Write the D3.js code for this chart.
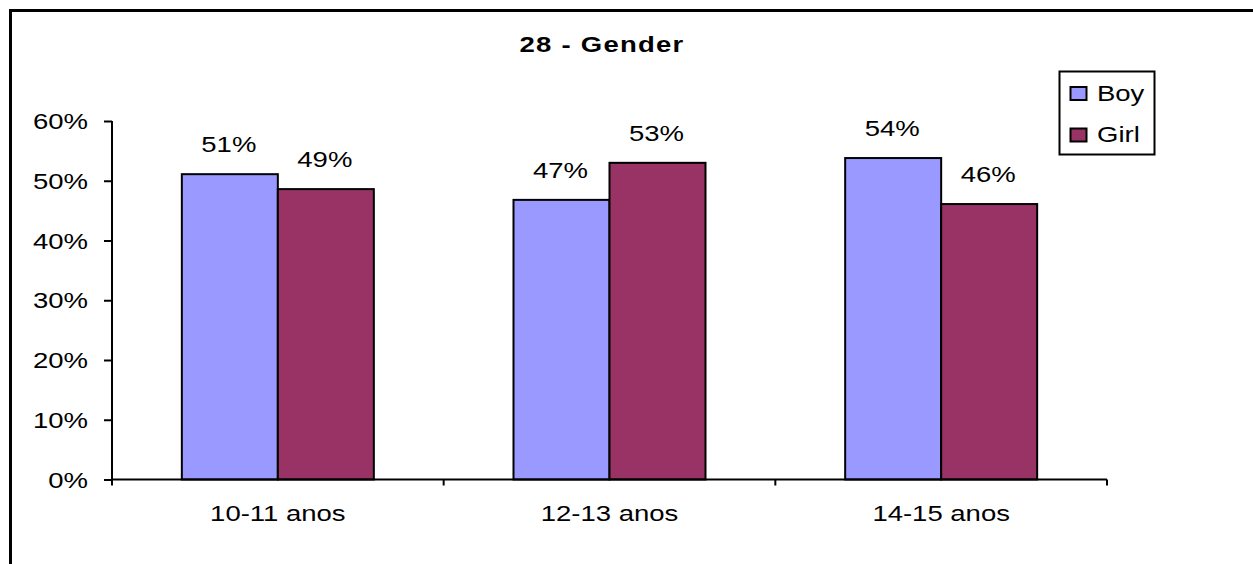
<!DOCTYPE html>
<html>
<head>
<meta charset="utf-8">
<script src="https://cdn.jsdelivr.net/npm/d3@7"></script>
<style>
  html, body { margin: 0; padding: 0; background: #fff; }
  svg { display: block; }
  text { font-family: Arial, "Liberation Sans", sans-serif; fill: #000; }
</style>
</head>
<body>
<svg id="chart" width="1253" height="564"></svg>
<script>
const categories = ["10-11 anos", "12-13 anos", "14-15 anos"];
const seriesNames = ["Boy", "Girl"];
const boyValues = [0.511, 0.468, 0.538];
const girlValues = [0.486, 0.530, 0.461];
const yTicks = [0, 0.1, 0.2, 0.3, 0.4, 0.5, 0.6];
const title = "28 - Gender";

(function () {
const colors = { Boy: "#9999FF", Girl: "#993366" };
const SX = 1.25; // horizontal text stretch seen in reference
const FS = 22;

const svg = d3.select("#chart");
const W = 1253, H = 564;
svg.append("rect").attr("width", W).attr("height", H).attr("fill", "#fff");

// outer chart border (extends past the right/bottom edges)
svg.append("rect")
  .attr("x", 10.5).attr("y", 10.5)
  .attr("width", 1300).attr("height", 700)
  .attr("fill", "none").attr("stroke", "#000").attr("stroke-width", 3);

const pLeft = 112, pRight = 1107, pTop = 121, pBottom = 479.5;

const x0 = d3.scaleBand().domain(categories).range([pLeft, pRight]).padding(0);
const barW = 96;
const bw = x0.bandwidth();
const x1 = d3.scaleBand().domain(seriesNames)
  .range([(bw - 2 * barW) / 2, (bw + 2 * barW) / 2]).padding(0);
const y = d3.scaleLinear().domain([0, 0.6]).range([pBottom, pTop]);

const data = categories.map((c, i) => ({
  cat: c,
  vals: [{ s: "Boy", v: boyValues[i] }, { s: "Girl", v: girlValues[i] }]
}));

function stretchedText(sel, x, yy, str, anchor, weight, size) {
  const t = sel.append("text")
    .attr("transform", `translate(${x},${yy}) scale(${SX},1)`)
    .attr("text-anchor", anchor)
    .style("font-size", (size || FS) + "px")
    .text(str);
  if (weight) t.style("font-weight", weight);
  return t;
}

// bars
const groups = svg.append("g").selectAll("g").data(data).join("g")
  .attr("transform", d => `translate(${x0(d.cat)},0)`);
groups.selectAll("rect").data(d => d.vals).join("rect")
  .attr("x", d => x1(d.s))
  .attr("y", d => y(d.v))
  .attr("width", x1.bandwidth())
  .attr("height", d => pBottom - y(d.v))
  .attr("fill", d => colors[d.s])
  .attr("stroke", "#000").attr("stroke-width", 2);

// value labels
const fmt = d3.format(".0%");
data.forEach(d => {
  d.vals.forEach(e => {
    stretchedText(svg, x0(d.cat) + x1(e.s) + x1.bandwidth() / 2 - 1, y(e.v) - 22, fmt(e.v), "middle");
  });
});

// y axis
const yAxis = d3.axisLeft(y).tickValues(yTicks).tickSize(8).tickFormat("");
const yg = svg.append("g").attr("transform", `translate(${pLeft},0)`).call(yAxis);
yg.select(".domain").attr("d", `M0,${pTop}H0V${pBottom}`).attr("stroke", "#000").attr("stroke-width", 2);
yg.selectAll(".tick line").attr("stroke", "#000").attr("stroke-width", 2);
yTicks.forEach(t => {
  stretchedText(svg, 88, y(t) + 8, fmt(t), "end");
});

// x axis
const xg = svg.append("g").attr("transform", `translate(0,${pBottom})`);
xg.append("line").attr("x1", pLeft).attr("x2", pRight).attr("y1", 0).attr("y2", 0)
  .attr("stroke", "#000").attr("stroke-width", 2);
const bounds = categories.map(c => x0(c)).concat([pRight]);
xg.selectAll("line.tk").data(bounds).join("line").attr("class", "tk")
  .attr("x1", d => d).attr("x2", d => d).attr("y1", 0).attr("y2", 6)
  .attr("stroke", "#000").attr("stroke-width", 2);
categories.forEach(c => {
  stretchedText(svg, x0(c) + bw / 2, 521, c, "middle");
});

// title
stretchedText(svg, 602, 51.5, title, "middle", "bold").style("letter-spacing", "1px");

// legend
const lg = svg.append("g");
lg.append("rect").attr("x", 1059.5).attr("y", 71.5).attr("width", 95).attr("height", 83)
  .attr("fill", "#fff").attr("stroke", "#000").attr("stroke-width", 2);
seriesNames.forEach((s, i) => {
  const yy = 87 + i * 41.5;
  lg.append("rect").attr("x", 1070.5).attr("y", yy).attr("width", 16).attr("height", 13)
    .attr("fill", colors[s]).attr("stroke", "#000").attr("stroke-width", 2);
  stretchedText(lg, 1097, yy + 13.5, s, "start");
});
})();
</script>
</body>
</html>
